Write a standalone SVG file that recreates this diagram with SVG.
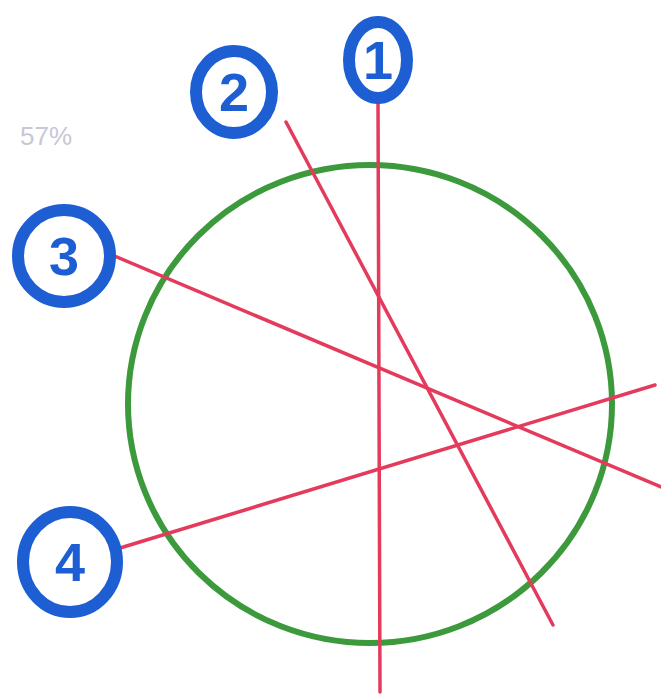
<svg xmlns="http://www.w3.org/2000/svg" width="661" height="700" viewBox="0 0 661 700">
<style>
.badge ellipse{fill:none;stroke:#1d5fd3;stroke-width:12}
.badge text{font-family:"Liberation Sans",Arial,sans-serif;font-weight:bold;font-size:54px;fill:#1d5fd3;text-anchor:middle;dominant-baseline:central}
.con line{stroke:#e43a5c;stroke-width:3.5;stroke-linecap:round}
</style>
<rect width="661" height="700" fill="#ffffff"/>
<text x="20" y="145" font-family="Liberation Sans,Arial,sans-serif" font-size="26" fill="#c8c7d6">57%</text>
<g id="circle"><ellipse cx="370" cy="404" rx="242" ry="239" fill="none" stroke="#3c9a3c" stroke-width="6"/></g>
<g id="connectors" class="con">
<line x1="378" y1="100" x2="380" y2="692"/>
<line x1="286" y1="122" x2="553" y2="625"/>
<line x1="112" y1="255" x2="661" y2="487"/>
<line x1="120" y1="548" x2="655" y2="385"/>
</g>
<g id="n1" class="badge"><ellipse cx="378" cy="60" rx="29" ry="38"/><text x="378" y="60">1</text></g>
<g id="n2" class="badge"><ellipse cx="234" cy="92" rx="38" ry="41"/><text x="234" y="92">2</text></g>
<g id="n3" class="badge"><ellipse cx="64" cy="256" rx="46" ry="46"/><text x="64" y="256">3</text></g>
<g id="n4" class="badge"><ellipse cx="70" cy="562" rx="47" ry="50"/><text x="70" y="562">4</text></g>
</svg>
